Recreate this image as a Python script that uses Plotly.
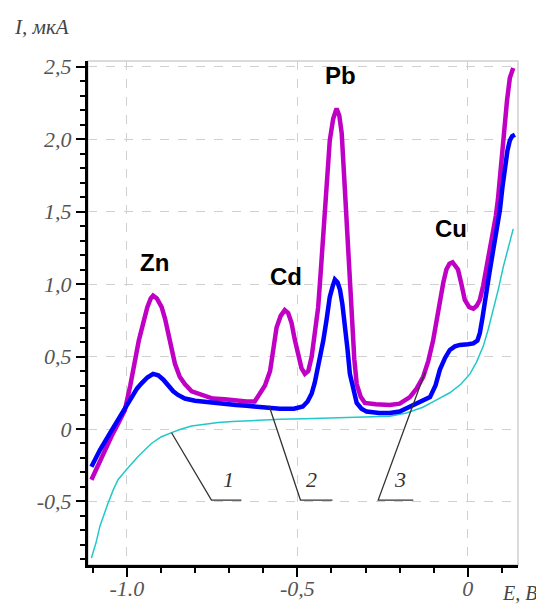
import plotly.graph_objects as go

# ---------------- data ----------------
curve1_E = [-1.104, -1.090, -1.079, -1.066, -1.055, -1.040, -1.026, -1.001, -0.967, -0.928, -0.900,
            -0.869, -0.840, -0.810, -0.770, -0.732, -0.690, -0.654, -0.600, -0.551, -0.480, -0.405,
            -0.330, -0.258, -0.229, -0.180, -0.132, -0.100, -0.053, -0.020, 0.006, 0.025, 0.045,
            0.060, 0.074, 0.090, 0.104, 0.120, 0.133]
curve1_I = [-0.89, -0.78, -0.67, -0.58, -0.51, -0.42, -0.35, -0.28, -0.19, -0.10, -0.055,
            -0.025, 0.0, 0.02, 0.035, 0.045, 0.052, 0.057, 0.062, 0.067, 0.07, 0.074,
            0.078, 0.085, 0.088, 0.11, 0.15, 0.19, 0.25, 0.31, 0.38, 0.46, 0.57,
            0.69, 0.82, 0.97, 1.12, 1.26, 1.38]

curve2_E = [-1.104, -1.079, -1.050, -1.026, -1.005, -0.986, -0.970, -0.957, -0.940, -0.923, -0.908,
            -0.893, -0.878, -0.864, -0.850, -0.830, -0.800, -0.781, -0.748, -0.713, -0.680, -0.649,
            -0.600, -0.551, -0.510, -0.484, -0.470, -0.458, -0.449, -0.437, -0.424, -0.414, -0.405,
            -0.397, -0.390, -0.382, -0.375, -0.368, -0.361, -0.353, -0.346, -0.336, -0.326, -0.312,
            -0.297, -0.260, -0.229, -0.200, -0.170, -0.140, -0.111, -0.095, -0.082, -0.067, -0.053,
            -0.038, -0.023, 0.000, 0.016, 0.028, 0.035, 0.043, 0.050, 0.062, 0.074, 0.086, 0.094,
            0.101, 0.108, 0.116, 0.123, 0.130, 0.138]
curve2_I = [-0.26, -0.145, -0.03, 0.06, 0.15, 0.22, 0.28, 0.315, 0.355, 0.38, 0.37,
            0.34, 0.30, 0.26, 0.235, 0.21, 0.195, 0.19, 0.177, 0.17, 0.165, 0.16,
            0.15, 0.14, 0.14, 0.155, 0.19, 0.245, 0.32, 0.45, 0.61, 0.76, 0.91,
            0.98, 1.03, 1.01, 0.96, 0.86, 0.73, 0.55, 0.38, 0.26, 0.18, 0.14,
            0.12, 0.11, 0.11, 0.12, 0.154, 0.18, 0.22, 0.30, 0.41, 0.49, 0.545,
            0.57, 0.58, 0.585, 0.59, 0.61, 0.66, 0.77, 0.89, 1.06, 1.23, 1.40, 1.51,
            1.66, 1.81, 1.92, 1.99, 2.02, 2.03]

curve3_E = [-1.104, -1.079, -1.060, -1.045, -1.025, -1.006, -0.990, -0.977, -0.965, -0.952, -0.940,
            -0.930, -0.923, -0.912, -0.898, -0.888, -0.879, -0.869, -0.859, -0.845, -0.830, -0.810,
            -0.781, -0.748, -0.713, -0.680, -0.649, -0.625, -0.610, -0.595, -0.580, -0.570, -0.561,
            -0.549, -0.537, -0.527, -0.517, -0.508, -0.498, -0.488, -0.478, -0.468, -0.458, -0.448,
            -0.439, -0.431, -0.424, -0.414, -0.405, -0.395, -0.385, -0.377, -0.370, -0.363, -0.356,
            -0.348, -0.341, -0.333, -0.326, -0.314, -0.302, -0.270, -0.229, -0.200, -0.170, -0.150,
            -0.131, -0.116, -0.102, -0.092, -0.082, -0.072, -0.063, -0.054, -0.045, -0.037, -0.029,
            -0.019, -0.009, 0.004, 0.016, 0.026, 0.035, 0.045, 0.055, 0.065, 0.074, 0.082, 0.088,
            0.094, 0.101, 0.108, 0.115, 0.123, 0.133]
curve3_I = [-0.35, -0.22, -0.12, -0.05, 0.04, 0.13, 0.30, 0.48, 0.61, 0.73, 0.84,
            0.90, 0.92, 0.90, 0.84, 0.76, 0.66, 0.55, 0.45, 0.36, 0.31, 0.26,
            0.235, 0.21, 0.205, 0.195, 0.19, 0.19, 0.24, 0.30, 0.40, 0.55, 0.70,
            0.78, 0.82, 0.80, 0.73, 0.62, 0.50, 0.42, 0.38, 0.40, 0.50, 0.66,
            0.84, 1.10, 1.37, 1.70, 1.99, 2.14, 2.21, 2.16, 2.04, 1.75, 1.42,
            1.05, 0.73, 0.48, 0.31, 0.22, 0.18, 0.17, 0.165, 0.175, 0.22, 0.28,
            0.36, 0.47, 0.61, 0.75, 0.89, 1.01, 1.10, 1.14, 1.15, 1.13, 1.10,
            1.00, 0.89, 0.84, 0.83, 0.85, 0.89, 0.99, 1.12, 1.24, 1.35, 1.47, 1.58,
            1.75, 1.92, 2.10, 2.27, 2.42, 2.49]

peak_labels = ["Zn", "Cd", "Pb", "Cu"]
peak_label_E = [-0.918, -0.534, -0.375, -0.050]
peak_label_I = [1.15, 1.05, 2.44, 1.385]

curve_numbers = ["1", "2", "3"]
curve_number_E = [-0.701, -0.458, -0.199]
curve_number_I = [-0.35, -0.35, -0.35]
# leader lines: (start on curve) -> (corner) -> (end of shelf)
leader_E = [[-0.869, -0.752, -0.664], [-0.583, -0.491, -0.397], [-0.126, -0.263, -0.160]]
leader_I = [[-0.026, -0.49, -0.49], [0.16, -0.49, -0.49], [0.39, -0.49, -0.49]]

x_tickvals = [-1.0, -0.5, 0.0]
x_ticktext = ["-1.0", "-0,5", "0"]
y_tickvals = [-0.5, 0.0, 0.5, 1.0, 1.5, 2.0, 2.5]
y_ticktext = ["-0,5", "0", "0,5", "1,0", "1,5", "2,0", "2,5"]

# ---------------- figure ----------------
fig = go.Figure()
fig.add_trace(go.Scatter(x=curve1_E, y=curve1_I, mode="lines",
                         line=dict(color="#22c8c8", width=1.5)))
fig.add_trace(go.Scatter(x=curve3_E, y=curve3_I, mode="lines",
                         line=dict(color="#c000c4", width=4.5)))
fig.add_trace(go.Scatter(x=curve2_E, y=curve2_I, mode="lines",
                         line=dict(color="#0000ff", width=4.5)))

for xs, ys in zip(leader_E, leader_I):
    fig.add_trace(go.Scatter(x=xs, y=ys, mode="lines",
                             line=dict(color="#333333", width=1.3)))

serif = "Liberation Serif"
for t, x, y in zip(peak_labels, peak_label_E, peak_label_I):
    fig.add_annotation(x=x, y=y, text=t, showarrow=False,
                       font=dict(family="Liberation Sans", size=24, color="black", weight="bold"))
for t, x, y in zip(curve_numbers, curve_number_E, curve_number_I):
    fig.add_annotation(x=x, y=y, text=t, showarrow=False,
                       font=dict(family=serif, size=22, color="#333333", style="italic"))

fig.add_annotation(xref="paper", yref="paper", x=-0.177, y=1.067, xanchor="left", yanchor="middle",
                   text="I, мкА", showarrow=False,
                   font=dict(family=serif, size=21, color="#444444", style="italic"))
fig.add_annotation(xref="paper", yref="paper", x=0.958, y=-0.055, xanchor="left", yanchor="middle",
                   text="E, B", showarrow=False,
                   font=dict(family=serif, size=20, color="#444444", style="italic"))

# gray frame on top/right
fig.add_shape(type="rect", xref="paper", yref="paper", x0=0, y0=0, x1=1, y1=1,
              line=dict(color="#cfcfcf", width=1.5), layer="below")

tickfont = dict(family=serif, size=22, color="#555555", style="italic")
fig.update_layout(
    width=536, height=596,
    margin=dict(l=80, r=26, t=53, b=39, autoexpand=False),
    paper_bgcolor="white", plot_bgcolor="white",
    showlegend=False,
    xaxis=dict(range=[-1.114, 0.147], tickvals=x_tickvals, ticktext=x_ticktext,
               automargin=False,
               showline=True, linecolor="black", linewidth=3,
               ticks="outside", ticklen=9, tickwidth=2, tickcolor="black",
               showgrid=True, gridcolor="#d0d0d0", griddash="dash", gridwidth=1,
               zeroline=False, tickfont=tickfont, ticklabelstandoff=-7,
               minor=dict(dtick=0.1, tick0=0, ticks="outside", ticklen=5, tickwidth=1.5,
                          tickcolor="black", showgrid=False)),
    yaxis=dict(range=[-0.938, 2.538], tickvals=y_tickvals, ticktext=y_ticktext,
               automargin=False,
               showline=True, linecolor="black", linewidth=3,
               ticks="outside", ticklen=9, tickwidth=2, tickcolor="black",
               showgrid=True, gridcolor="#d0d0d0", griddash="dash", gridwidth=1,
               zeroline=False, tickfont=tickfont,
               minor=dict(dtick=0.1, tick0=0, ticks="outside", ticklen=5, tickwidth=1.5,
                          tickcolor="black", showgrid=False)),
)

fig.write_html("out.html")
